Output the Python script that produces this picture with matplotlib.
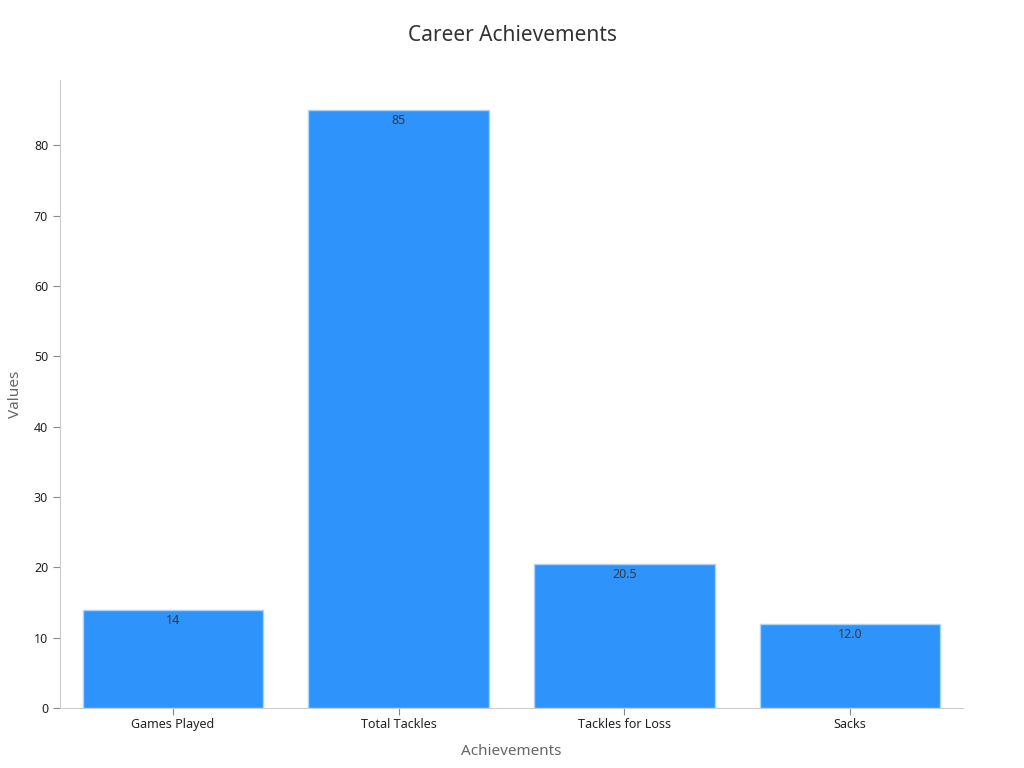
import matplotlib.pyplot as plt
import numpy as np

plt.rcParams['font.family'] = ['Noto Sans', 'DejaVu Sans']

categories = ['Games Played', 'Total Tackles', 'Tackles for Loss', 'Sacks']
values = [14, 85, 20.5, 12.0]
labels = ['14', '85', '20.5', '12.0']

fig = plt.figure(figsize=(10.24, 7.68), dpi=100)
ax = fig.add_axes([60 / 1024, 60 / 768, 903 / 1024, 628 / 768])

x = np.arange(len(categories))
bars = ax.bar(x, values, width=0.8, color='#2E93FA', edgecolor='#A8D4FD', linewidth=1)

for xi, v, lab in zip(x, values, labels):
    ax.text(xi, v - 0.6, lab, ha='center', va='top', fontsize=9, color='#3a3a3a')

ax.set_xlim(-0.5, 3.5)
ax.set_ylim(0, 89.3)
ax.set_xticks(x)
ax.set_xticklabels(categories, fontsize=9, color='#222222')
ax.set_yticks(np.arange(0, 90, 10))
ax.tick_params(axis='y', labelsize=9, colors='#222222')
ax.tick_params(axis='x', pad=2.5)
ax.tick_params(axis='both', color='#888888', length=5)

for s in ['top', 'right']:
    ax.spines[s].set_visible(False)
for s in ['left', 'bottom']:
    ax.spines[s].set_color('#cccccc')

ax.set_xlabel('Achievements', fontsize=11, color='#666666', labelpad=9)
ax.set_ylabel('Values', fontsize=11, color='#666666', labelpad=8)
fig.suptitle('Career Achievements', fontsize=15, color='#333333', y=0.967)

fig.savefig('out.png', dpi=100)
